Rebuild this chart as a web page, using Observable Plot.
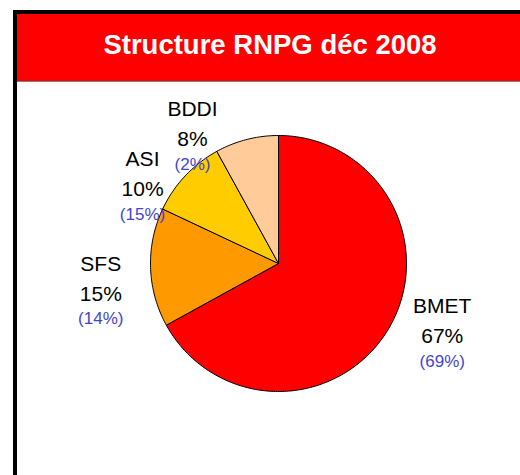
<!DOCTYPE html>
<html><head><meta charset="utf-8">
<script src="https://cdn.jsdelivr.net/npm/d3@7"></script>
<script src="https://cdn.jsdelivr.net/npm/@observablehq/plot@0.6"></script>
<style>
html,body{margin:0;padding:0;background:#fff;width:520px;height:475px;overflow:hidden;font-family:"Liberation Sans",Arial,sans-serif;}
#frame{position:absolute;left:13px;top:10px;width:600px;height:600px;border-left:4px solid #000;border-top:4px solid #000;}
#header{position:absolute;left:0;top:0;width:600px;height:67px;background:#FF0000;border-bottom:1px solid #808080;}
#title{position:absolute;left:-17px;width:540px;top:16px;text-align:center;color:#fff;font-weight:bold;font-size:27.5px;line-height:30px;white-space:nowrap;}
#chart{position:absolute;left:0;top:82px;}
</style></head>
<body>
<div id="frame"><div id="header"><div id="title"></div></div></div>
<div id="chart"></div>
<script>
const title = "Structure RNPG déc 2008";
const categories = ["BMET", "SFS", "ASI", "BDDI"];
const shares = [67, 15, 10, 8];
const previousShares = [69, 14, 15, 2];
const sliceColors = ["#FF0000", "#FF9900", "#FFCC00", "#FFCC99"];

// layout (pixels)
const R = 128, cx = 278, cy = 181;
const labelNudge = {BMET: [15, -15], SFS: [-5, 25], ASI: [-10, 44], BDDI: [-43, 43]};

document.getElementById("title").textContent = title;

const rows = categories.map((name, i) => ({name, value: shares[i], prev: previousShares[i]}));
const arcs = d3.pie().sort(null).value(d => d.value)(rows);
const outline = [];
for (const a of arcs) {
  const n = Math.max(2, Math.ceil((a.endAngle - a.startAngle) / (Math.PI / 180)));
  outline.push({name: a.data.name, x: 0, y: 0});
  for (let k = 0; k <= n; k++) {
    const t = a.startAngle + (a.endAngle - a.startAngle) * k / n;
    outline.push({name: a.data.name, x: Math.sin(t), y: Math.cos(t)});
  }
  outline.push({name: a.data.name, x: 0, y: 0});
}
const labels = arcs.map(a => {
  const m = (a.startAngle + a.endAngle) / 2;
  const [nx, ny] = labelNudge[a.data.name];
  return {...a.data, x: 1.35 * Math.sin(m) + nx / R, y: 1.35 * Math.cos(m) - ny / R};
});

const chart = Plot.plot({
  width: 520, height: 393, margin: 0,
  x: {domain: [-1, 1], range: [cx - R, cx + R], axis: null},
  y: {domain: [-1, 1], range: [cy + R, cy - R], axis: null},
  color: {domain: categories, range: sliceColors},
  style: {background: "transparent", overflow: "visible", fontFamily: "'Liberation Sans', Arial, sans-serif"},
  marks: [
    Plot.line(outline, {x: "x", y: "y", z: "name", fill: "name", stroke: "#000", strokeWidth: 1, strokeLinejoin: "round"}),
    Plot.text(labels, {x: "x", y: "y", text: "name", dy: -30, fontSize: 21, fill: "#000"}),
    Plot.text(labels, {x: "x", y: "y", text: d => d.value + "%", fontSize: 21, fill: "#000"}),
    Plot.text(labels, {x: "x", y: "y", text: d => `(${d.prev}%)`, dy: 25, fontSize: 17, fill: "#4444CC"})
  ]
});
document.getElementById("chart").appendChild(chart);
</script>
</body></html>
